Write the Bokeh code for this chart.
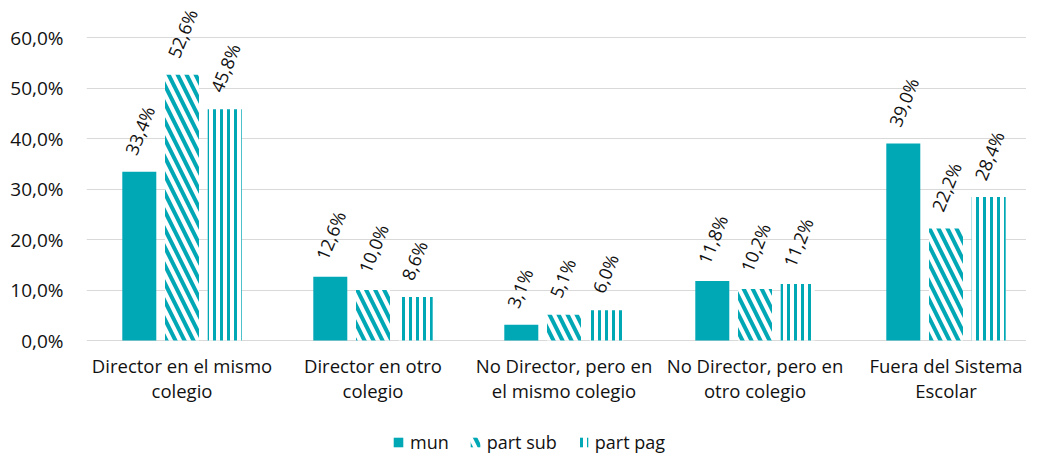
import math
from bokeh.plotting import figure
from bokeh.models import (ColumnDataSource, Range1d, FixedTicker, Legend, LegendItem)
from bokeh.core.properties import value
from bokeh.embed import file_html
from bokeh.resources import INLINE

# ---- data ----
categories = ["Director en el mismo\ncolegio", "Director en otro\ncolegio",
              "No Director, pero en\nel mismo colegio", "No Director, pero en\notro colegio",
              "Fuera del Sistema\nEscolar"]
series_names = ["mun", "part sub", "part pag"]
mun = [33.4, 12.6, 3.1, 11.8, 39.0]
part_sub = [52.6, 10.0, 5.1, 10.2, 22.2]
part_pag = [45.8, 8.6, 6.0, 11.2, 28.4]
y_ticks = [0, 10, 20, 30, 40, 50, 60]
y_tick_labels = ["0,0%", "10,0%", "20,0%", "30,0%", "40,0%", "50,0%", "60,0%"]

TEAL = "#00A7B5"
FONT = "Open Sans"
TXT = "#111111"

W, H = 1026, 454
left = 86
px_per_cat = 191
px_per_pct = 5.05
zero_y = 340  # pixel row of 0 %
frame_w = W - left

p = figure(width=W, height=H, output_backend="svg", toolbar_location=None,
           x_range=Range1d(0, frame_w / px_per_cat),
           y_range=Range1d(-(H - zero_y) / px_per_pct, zero_y / px_per_pct),
           min_border_left=left, min_border_right=0, min_border_top=0, min_border_bottom=0,
           x_axis_type=None)
p.outline_line_color = None
p.background_fill_color = None
p.border_fill_color = "white"

centers = [i + 0.5 for i in range(len(categories))]
bar_w = 34 / px_per_cat
step = 42.7 / px_per_cat
offsets = [-step, 0.0, step]
series = [mun, part_sub, part_pag]

renderers = []
for k, (vals, off) in enumerate(zip(series, offsets)):
    xs = [c + off for c in centers]
    src = ColumnDataSource(dict(x=xs, top=vals,
                                lx=[x - 9 / px_per_cat for x in xs],
                                ly=[v + 18 / px_per_pct for v in vals],
                                lbl=[("%.1f" % v).replace(".", ",") + "%" for v in vals]))
    if k == 0:
        r = p.vbar(x="x", top="top", width=bar_w, source=src, fill_color=TEAL, line_color=None)
    elif k == 1:
        r = p.vbar(x="x", top="top", width=bar_w, source=src, fill_color="white", line_color=None,
                   hatch_pattern="\\", hatch_color=TEAL, hatch_scale=18, hatch_weight=4)
    else:
        r = p.vbar(x="x", top="top", width=bar_w, source=src, fill_color="white", line_color=None,
                   hatch_pattern="|", hatch_color=TEAL, hatch_scale=7, hatch_weight=3)
    renderers.append(r)
    p.text(x="lx", y="ly", text="lbl", source=src, angle=math.radians(68),
           text_align="left", text_baseline="middle", text_font=value(FONT),
           text_font_size="18px", text_color=TXT)

# category labels (below the zero line)
cat_src = ColumnDataSource(dict(x=centers, y=[-12 / px_per_pct] * len(centers), t=categories))
p.text(x="x", y="y", text="t", source=cat_src, text_align="center", text_baseline="top",
       text_font=value(FONT), text_font_size="18.5px", text_color=TXT, text_line_height=1.0)

# y axis
p.yaxis.ticker = FixedTicker(ticks=y_ticks)
p.yaxis.major_label_overrides = {t: l for t, l in zip(y_ticks, y_tick_labels)}
p.yaxis.axis_line_color = None
p.yaxis.major_tick_line_color = None
p.yaxis.minor_tick_line_color = None
p.yaxis.major_label_standoff = 17
p.yaxis.major_label_text_font = FONT
p.yaxis.major_label_text_font_size = "19px"
p.yaxis.major_label_text_color = TXT
p.ygrid.ticker = FixedTicker(ticks=y_ticks)
p.ygrid.grid_line_color = "#D9D9D9"
p.ygrid.grid_line_width = 1
p.xgrid.grid_line_color = None

legend = Legend(items=[LegendItem(label=n, renderers=[r]) for n, r in zip(series_names, renderers)],
                orientation="horizontal", location=(306, 0),
                padding=0, margin=0, spacing=20, glyph_width=12, glyph_height=12,
                label_standoff=6, border_line_color=None, background_fill_alpha=0,
                label_text_font=FONT, label_text_font_size="18px", label_text_color=TXT)
p.add_layout(legend, "center")

open("out.html", "w").write(file_html(p, INLINE))
